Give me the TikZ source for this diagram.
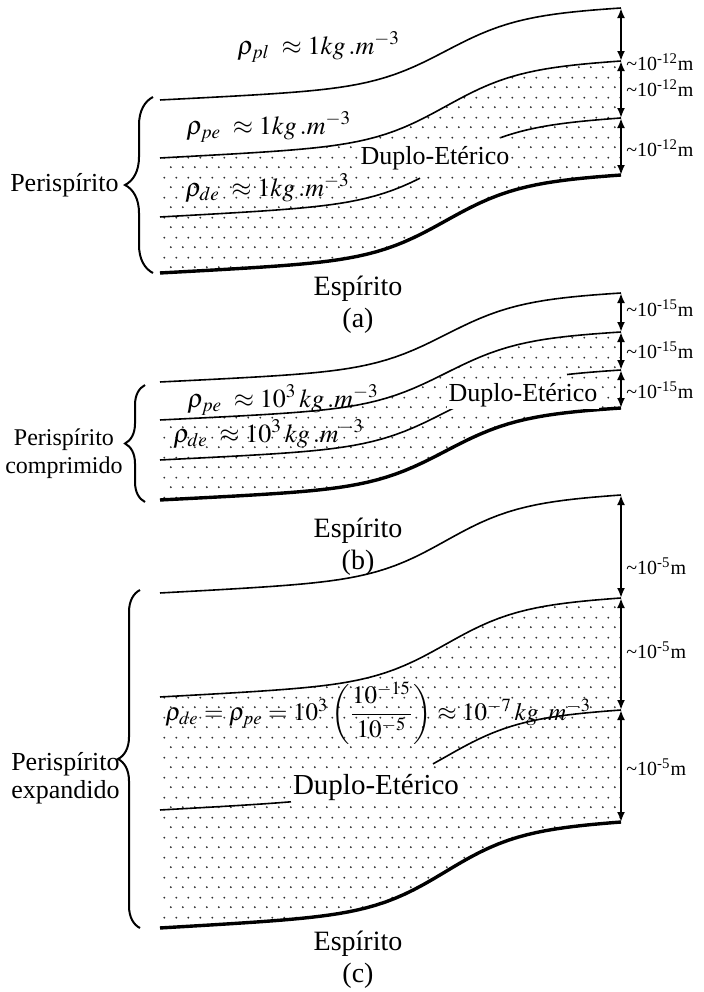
\documentclass[tikz,border=0pt]{standalone}
\usepackage{mathptmx}
\usepackage[no-math]{fontspec}
\setmainfont{Liberation Serif}
\usetikzlibrary{arrows.meta, patterns, decorations.pathreplacing}

% staggered dots for the ether layers
\pgfdeclarepatternformonly{sparsedots}{\pgfqpoint{0pt}{0pt}}{\pgfqpoint{6pt}{10pt}}{\pgfqpoint{6pt}{10pt}}{%
  \pgfpathcircle{\pgfqpoint{1.5pt}{2.5pt}}{0.55pt}%
  \pgfpathcircle{\pgfqpoint{4.5pt}{7.5pt}}{0.55pt}%
  \pgfusepath{fill}%
}

\begin{document}
\begin{tikzpicture}[x=0.5pt, y=-0.5pt,
  declare function={prof(\uu)=0.25*\uu+0.7565/(1+exp(-(\uu-0.62)/0.08));
                    lay(\xp,\ya,\yb)=\ya-(\ya-\yb)*prof((\xp-160)/461);},
  layer/.style={line width=0.8pt},
  base/.style={line width=1.7pt},
  dotfill/.style={pattern=sparsedots, pattern color=black!80},
  dim/.style={{Latex[length=5pt,width=4pt]}-{Latex[length=5pt,width=4pt]}, line width=1.1pt},
  dimlbl/.style={anchor=west, inner sep=1pt, font=\fontsize{10}{12}\selectfont},
  lbl/.style={anchor=east, align=center, inner sep=2pt, font=\fontsize{13}{14}\selectfont},
  eq/.style={anchor=west, inner sep=2pt, font=\fontsize{13}{15}\selectfont},
  brc/.style={decorate, decoration={brace, amplitude=#1}, line width=1pt},
  duplo/.style={fill=white, inner sep=1pt, font=\fontsize{13}{15}\selectfont},
  espirito/.style={align=center, font=\fontsize{14}{16}\selectfont},
]
\useasboundingbox (0,0) rectangle (703,992);

% ===== (a) =====
\fill[dotfill] plot[domain=160:621, samples=50] (\x,{lay(\x,158,61)})
  -- plot[domain=621:160, samples=50] (\x,{lay(\x,273,175)}) -- cycle;
\draw[layer] plot[domain=160:621, samples=50] (\x,{lay(\x,100,8)});
\draw[layer] plot[domain=160:621, samples=50] (\x,{lay(\x,158,61)});
\draw[layer] plot[domain=160:420, samples=30] (\x,{lay(\x,217,118)});
\draw[layer] plot[domain=501:621, samples=20] (\x,{lay(\x,217,118)});
\draw[base] plot[domain=160:621, samples=50] (\x,{lay(\x,273,175)});

\coordinate (a0) at (621,8);
\coordinate (a1) at (621,61);
\coordinate (a2) at (621,118);
\coordinate (a3) at (621,175);
\draw[dim] (a0) -- (a1);
\draw[dim] (a1) -- (a2);
\draw[dim] (a2) -- (a3);
\node[dimlbl] (da1) at (624,62) {\textasciitilde10\textsuperscript{-12}m};
\node[dimlbl] (da2) at (624,88) {\textasciitilde10\textsuperscript{-12}m};
\node[dimlbl] (da3) at (624,148) {\textasciitilde10\textsuperscript{-12}m};

\node[eq] (rpla) at (233,47) {$\rho_{pl}\;\approx 1kg\,.m^{-3}$};
\node[eq] (rpea) at (182,127) {$\rho_{pe}\;\approx 1kg\,.m^{-3}$};
\node[eq] (rdea) at (181,188) {$\rho_{de}\;\approx 1kg\,.m^{-3}$};
\node[duplo] (dupa) at (435,158) {Duplo-Etérico};

\coordinate (bra top) at (153,97);
\coordinate (bra bot) at (153,273);
\draw[brc=14pt] (bra bot) -- (bra top);
\node[lbl] (peria) at (123,185) {Perispírito};
\node[espirito] (espa) at (358,305) {Espírito\\(a)};

% ===== (b) =====
\fill[dotfill] plot[domain=160:621, samples=50] (\x,{lay(\x,420,332)})
  -- plot[domain=621:160, samples=50] (\x,{lay(\x,500,408)}) -- cycle;
\draw[layer] plot[domain=160:621, samples=50] (\x,{lay(\x,382,293)});
\draw[layer] plot[domain=160:621, samples=50] (\x,{lay(\x,420,332)});
\draw[layer] plot[domain=160:455, samples=30] (\x,{lay(\x,460,370)});
\draw[layer] plot[domain=567:621, samples=10] (\x,{lay(\x,460,370)});
\draw[base] plot[domain=160:621, samples=50] (\x,{lay(\x,500,408)});

\coordinate (b0) at (621,293);
\coordinate (b1) at (621,332);
\coordinate (b2) at (621,370);
\coordinate (b3) at (621,408);
\draw[dim] (b0) -- (b1);
\draw[dim] (b1) -- (b2);
\draw[dim] (b2) -- (b3);
\node[dimlbl] (db1) at (624,308) {\textasciitilde10\textsuperscript{-15}m};
\node[dimlbl] (db2) at (624,350) {\textasciitilde10\textsuperscript{-15}m};
\node[dimlbl] (db3) at (624,390) {\textasciitilde10\textsuperscript{-15}m};

\node[eq] (rpeb) at (183,400) {$\rho_{pe}\;\approx 10^{3}\,kg\,.m^{-3}$};
\node[eq] (rdeb) at (169,434) {$\rho_{de}\;\approx 10^{3}\,kg\,.m^{-3}$};
\node[duplo] (dupb) at (523,395) {Duplo-Etérico};

\coordinate (brb top) at (145,385);
\coordinate (brb bot) at (145,502);
\draw[brc=10pt] (brb bot) -- (brb top);
\node[lbl, font=\fontsize{12}{14}\selectfont] (perib) at (127,454) {Perispírito\\comprimido};
\node[espirito] (espb) at (358,547) {Espírito\\(b)};

% ===== (c) =====
\fill[dotfill] plot[domain=160:621, samples=50] (\x,{lay(\x,697,598)})
  -- plot[domain=621:160, samples=50] (\x,{lay(\x,928,822)}) -- cycle;
\draw[layer] plot[domain=160:621, samples=50] (\x,{lay(\x,593,495)});
\draw[layer] plot[domain=160:621, samples=50] (\x,{lay(\x,697,598)});
\draw[layer] plot[domain=160:291, samples=20] (\x,{lay(\x,810,710)});
\draw[layer] plot[domain=433:621, samples=30] (\x,{lay(\x,810,710)});
\draw[base] plot[domain=160:621, samples=50] (\x,{lay(\x,928,822)});

\coordinate (c0) at (621,495);
\coordinate (c1) at (621,598);
\coordinate (c2) at (621,710);
\coordinate (c3) at (621,822);
\draw[dim] (c0) -- (c1);
\draw[dim] (c1) -- (c2);
\draw[dim] (c2) -- (c3);
\node[dimlbl] (dc1) at (624,566) {\textasciitilde10\textsuperscript{-5}m};
\node[dimlbl] (dc2) at (624,650) {\textasciitilde10\textsuperscript{-5}m};
\node[dimlbl] (dc3) at (624,767) {\textasciitilde10\textsuperscript{-5}m};

\node[eq, font=\fontsize{12.5}{15}\selectfont] (rdec) at (161,713)
  {$\rho_{de}=\rho_{pe}=10^{3}\left({\displaystyle\frac{10^{-15}}{10^{-5}}}\right)\approx 10^{-7}\,kg\,.m^{-3}$};
\node[duplo, font=\fontsize{14.5}{17}\selectfont] (dupc) at (376,787) {Duplo-Etérico};

\coordinate (brc top) at (140,590);
\coordinate (brc bot) at (140,928);
\draw[brc=11pt] (brc bot) -- (brc top);
\node[lbl] (peric) at (124,778) {Perispírito\\expandido};
\node[espirito] (espc) at (358,960) {Espírito\\(c)};

\end{tikzpicture}
\end{document}
